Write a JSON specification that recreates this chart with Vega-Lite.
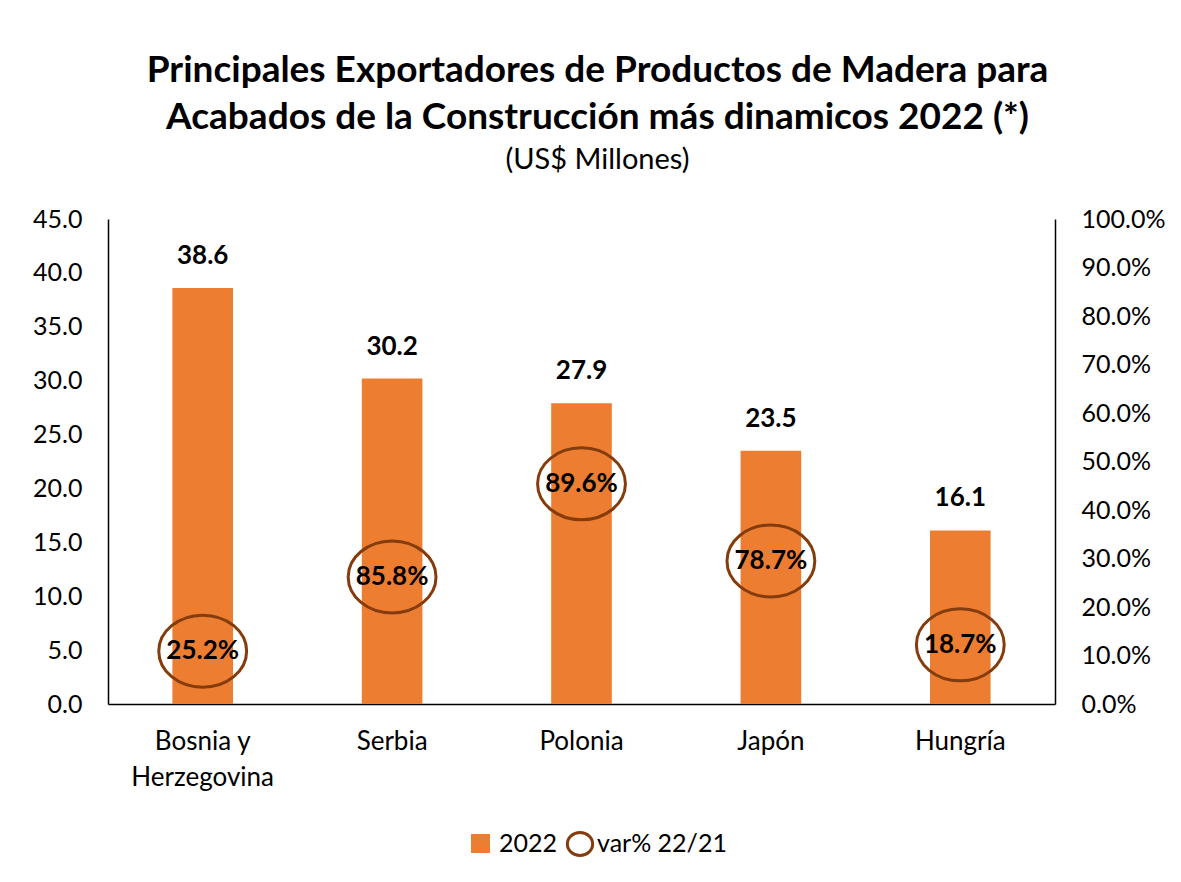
{
  "$schema": "https://vega.github.io/schema/vega-lite/v6.json",
  "autosize": {"type": "none"},
  "width": 947,
  "height": 485,
  "padding": {"left": 108, "top": 219, "right": 126, "bottom": 178},
  "background": "white",
  "config": {
    "view": {"stroke": null},
    "font": "Lato",
    "axis": {"labelFont": "Lato", "labelColor": "#000000", "grid": false, "ticks": false, "domainColor": "#000000", "domainWidth": 1.5, "title": null}
  },
  "title": {
    "text": ["Principales Exportadores de Productos de Madera para", "Acabados de la Construcción más dinamicos 2022 (*)"],
    "subtitle": "(US$ Millones)",
    "font": "Lato",
    "fontSize": 37,
    "fontWeight": "bold",
    "lineHeight": 47,
    "color": "#000000",
    "subtitleFont": "Lato",
    "subtitleFontSize": 29,
    "subtitleColor": "#000000",
    "subtitlePadding": 9,
    "anchor": "middle",
    "dx": 16,
    "offset": 31
  },
  "data": {
    "values": [
      {"pais": "Bosnia y Herzegovina", "valor": 38.6, "var": 0.252, "marca": 10.9},
      {"pais": "Serbia", "valor": 30.2, "var": 0.858, "marca": 26.2},
      {"pais": "Polonia", "valor": 27.9, "var": 0.896, "marca": 45.4},
      {"pais": "Japón", "valor": 23.5, "var": 0.787, "marca": 29.5},
      {"pais": "Hungría", "valor": 16.1, "var": 0.187, "marca": 12.2}
    ]
  },
  "encoding": {
    "x": {
      "field": "pais",
      "type": "nominal",
      "sort": null,
      "scale": {"paddingInner": 0.68, "paddingOuter": 0.34},
      "axis": {
        "labelAngle": 0,
        "labelFontSize": 26,
        "labelPadding": 24,
        "labelLineHeight": 36,
        "labelExpr": "datum.label == 'Bosnia y Herzegovina' ? ['Bosnia y', 'Herzegovina'] : datum.label"
      }
    }
  },
  "layer": [
    {
      "layer": [
        {
          "mark": {"type": "bar"},
          "encoding": {
            "y": {
              "field": "valor",
              "type": "quantitative",
              "scale": {"domain": [0, 45]},
              "axis": {"values": [0, 5, 10, 15, 20, 25, 30, 35, 40, 45], "format": ".1f", "labelFontSize": 25, "labelPadding": 26}
            },
            "color": {
              "datum": "2022",
              "scale": {"domain": ["2022"], "range": ["#ED7D31"]},
              "legend": {
                "title": null,
                "orient": "none",
                "legendX": 360,
                "legendY": 612,
                "labelFontSize": 25,
                "labelFont": "Lato",
                "labelColor": "#000000",
                "labelOffset": 6,
                "symbolType": "square",
                "symbolSize": 361,
                "symbolStrokeWidth": 0,
                "symbolOpacity": 1
              }
            }
          }
        },
        {
          "mark": {"type": "text", "fontSize": 26, "fontWeight": "bold", "color": "#000000", "dy": -32},
          "encoding": {
            "y": {"field": "valor", "type": "quantitative"},
            "text": {"field": "valor", "type": "quantitative", "format": ".1f"}
          }
        }
      ]
    },
    {
      "layer": [
        {
          "mark": {
            "type": "point",
            "filled": false,
            "strokeWidth": 3,
            "opacity": 1,
            "shape": "M-1.22,0C-1.22,-0.5523,-0.674,-1,0,-1C0.674,-1,1.22,-0.5523,1.22,0C1.22,0.5523,0.674,1,0,1C-0.674,1,-1.22,0.5523,-1.22,0Z",
            "size": 5184
          },
          "encoding": {
            "y": {
              "field": "marca",
              "type": "quantitative",
              "scale": {"domain": [0, 100]},
              "axis": {"orient": "right", "values": [0, 10, 20, 30, 40, 50, 60, 70, 80, 90, 100], "labelExpr": "format(datum.value, '.1f') + '%'", "labelFontSize": 25, "labelPadding": 26}
            },
            "stroke": {
              "datum": "var% 22/21",
              "scale": {"domain": ["var% 22/21"], "range": ["#843C0C"]},
              "legend": {
                "title": null,
                "orient": "none",
                "legendX": 459,
                "legendY": 612,
                "labelFontSize": 25,
                "labelFont": "Lato",
                "labelColor": "#000000",
                "labelOffset": 4,
                "symbolType": "M-1.1,0C-1.1,-0.5523,-0.607,-1,0,-1C0.607,-1,1.1,-0.5523,1.1,0C1.1,0.5523,0.607,1,0,1C-0.607,1,-1.1,0.5523,-1.1,0Z",
                "symbolSize": 529,
                "symbolStrokeWidth": 3,
                "symbolFillColor": "transparent",
                "symbolOpacity": 1
              }
            }
          }
        },
        {
          "mark": {"type": "text", "fontSize": 26, "fontWeight": "bold", "color": "#000000"},
          "encoding": {
            "y": {"field": "marca", "type": "quantitative"},
            "text": {"field": "var", "type": "quantitative", "format": ".1%"}
          }
        }
      ]
    }
  ],
  "resolve": {"scale": {"y": "independent"}}
}
